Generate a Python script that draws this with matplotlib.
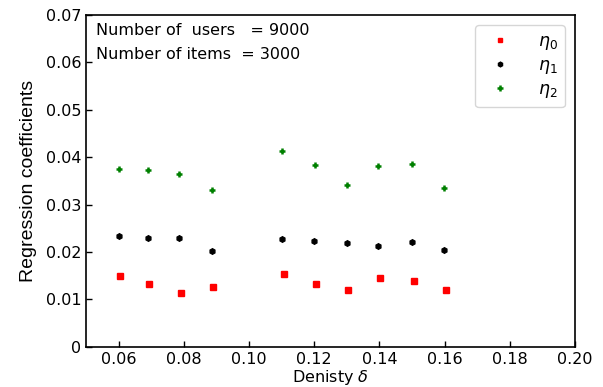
import matplotlib
matplotlib.use("Agg")
import matplotlib.pyplot as plt

# values
density_eta0 = [0.0605, 0.0693, 0.0791, 0.0890, 0.1107, 0.1205, 0.1304, 0.1401, 0.1505, 0.1603]
density_eta1 = [0.0600, 0.0689, 0.0786, 0.0885, 0.1102, 0.1200, 0.1300, 0.1396, 0.1500, 0.1598]
density_eta2 = [0.0600, 0.0689, 0.0786, 0.0887, 0.1102, 0.1201, 0.1300, 0.1396, 0.1501, 0.1598]
eta0 = [0.0149, 0.0132, 0.0113, 0.0125, 0.0153, 0.0132, 0.0120, 0.0145, 0.0138, 0.0120]
eta1 = [0.0234, 0.0230, 0.0230, 0.0202, 0.0227, 0.0223, 0.0218, 0.0213, 0.0220, 0.0204]
eta2 = [0.0376, 0.0374, 0.0364, 0.0331, 0.0413, 0.0383, 0.0341, 0.0382, 0.0386, 0.0336]

xticks = [0.06, 0.08, 0.10, 0.12, 0.14, 0.16, 0.18, 0.20]
xtick_labels = ["0.06", "0.08", "0.10", "0.12", "0.14", "0.16", "0.18", "0.20"]
yticks = [0, 0.01, 0.02, 0.03, 0.04, 0.05, 0.06, 0.07]
ytick_labels = ["0", "0.01", "0.02", "0.03", "0.04", "0.05", "0.06", "0.07"]

fig = plt.figure(figsize=(6.03, 3.87), dpi=100)
ax = fig.add_axes([0.1426, 0.1041, 0.811, 0.857])

ax.plot(density_eta0, eta0, linestyle="none", marker="s", color="red",
        markersize=4, label=r"$\eta_0$")
ax.plot(density_eta1, eta1, linestyle="none", marker="h", color="black",
        markersize=4, label=r"$\eta_1$")
ax.plot(density_eta2, eta2, linestyle="none", marker="+", color="green",
        markersize=5, markeredgewidth=1.8, label=r"$\eta_2$")

ax.set_xlim(0.05, 0.20)
ax.set_ylim(0, 0.07)
ax.set_xticks(xticks)
ax.set_xticklabels(xtick_labels)
ax.set_yticks(yticks)
ax.set_yticklabels(ytick_labels)
ax.tick_params(direction="in", labelsize=11.5, length=4, width=1,
               top=False, right=False)
for s in ax.spines.values():
    s.set_linewidth(1.2)

ax.set_xlabel(r"Denisty $\delta$", fontsize=11.5, labelpad=1)
ax.set_ylabel("Regression coefficients", fontsize=14,
              family="Liberation Sans", labelpad=6)

ax.text(0.02, 0.975, "Number of  users   = 9000", transform=ax.transAxes,
        fontsize=11.5, va="top")
ax.text(0.02, 0.905, "Number of items  = 3000", transform=ax.transAxes,
        fontsize=11.5, va="top")

ax.legend(loc="upper right", fontsize=12.5, handletextpad=1.2,
          borderpad=0.4, labelspacing=0.22, handlelength=2.0,
          markerscale=0.85, borderaxespad=0.6)

fig.savefig("out.png", dpi=100)
